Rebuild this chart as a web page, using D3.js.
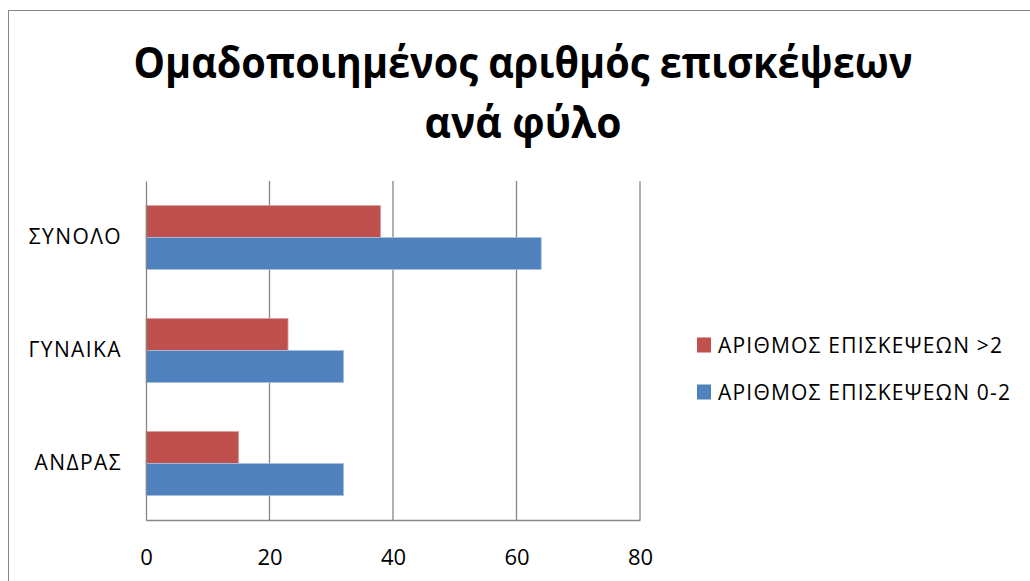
<!DOCTYPE html>
<html><head><meta charset="utf-8">
<script src="https://cdn.jsdelivr.net/npm/d3@7"></script>
<style>body{margin:0;background:#fff}svg{display:block}text{font-family:"Open Sans","Noto Sans",sans-serif}</style>
</head><body><svg id="c" width="1030" height="581"></svg>
<script>
const titleLines = ["Ομαδοποιημένος αριθμός επισκέψεων", "ανά φύλο"];
const titleWidths = [779, 197];
const categories = ["ΣΥΝΟΛΟ", "ΓΥΝΑΙΚΑ", "ΑΝΔΡΑΣ"];
const seriesNames = ["ΑΡΙΘΜΟΣ ΕΠΙΣΚΕΨΕΩΝ >2", "ΑΡΙΘΜΟΣ ΕΠΙΣΚΕΨΕΩΝ 0-2"];
const seriesColors = ["#C0504D", "#4F81BD"];
const valuesOver2 = [38, 23, 15];
const values0to2 = [64, 32, 32];
const xTicks = [0, 20, 40, 60, 80];

const svg = d3.select("#c");
// outer frame
svg.append("rect").attr("x", 8.5).attr("y", 10.5).attr("width", 1040).attr("height", 600)
  .attr("fill", "none").attr("stroke", "#868686").attr("stroke-width", 1);

// title
svg.append("g").selectAll("text").data(titleLines).join("text")
  .attr("x", 523).attr("y", (d, i) => 78 + i * 60)
  .attr("text-anchor", "middle").attr("font-size", 43).attr("font-weight", "bold")
  .attr("textLength", (d, i) => titleWidths[i]).attr("lengthAdjust", "spacingAndGlyphs")
  .attr("fill", "#000").text(d => d);

const m = {left: 146, right: 640, top: 181, bottom: 520};
const x = d3.scaleLinear().domain([0, 80]).range([m.left, m.right]);
const y = d3.scaleBand().domain(categories).range([m.top, m.bottom]).paddingInner(0).paddingOuter(0);
const inner = d3.scaleBand().domain([0, 1]).range([0, y.bandwidth()]).paddingInner(0).paddingOuter(0.765);

// gridlines
svg.append("g").selectAll("line").data(xTicks.slice(1)).join("line")
  .attr("x1", d => x(d)).attr("x2", d => x(d)).attr("y1", m.top).attr("y2", m.bottom)
  .attr("stroke", "#868686").attr("stroke-width", 1.3);

// bars
const data = [valuesOver2, values0to2];
data.forEach((vals, s) => {
  svg.append("g").selectAll("rect").data(vals).join("rect")
    .attr("x", x(0)).attr("y", (d, i) => y(categories[i]) + inner(s))
    .attr("width", d => x(d) - x(0)).attr("height", inner.bandwidth())
    .attr("fill", seriesColors[s]).attr("stroke", s === 0 ? "#d9a3a1" : "#a8c0de").attr("stroke-width", 0.8);
});

// axes
const xAxis = d3.axisBottom(x).tickValues(xTicks).tickSize(0).tickPadding(29);
const gx = svg.append("g").attr("transform", `translate(0,${m.bottom})`).call(xAxis);
gx.select(".domain").attr("stroke", "#868686").attr("stroke-width", 1.3);
gx.selectAll("text").attr("font-size", 22).attr("fill", "#000").style("font-family", '"Open Sans",sans-serif');

const yAxis = d3.axisLeft(y).tickSize(0).tickPadding(24);
const gy = svg.append("g").attr("transform", `translate(${m.left},0)`).call(yAxis);
gy.select(".domain").attr("stroke", "#868686").attr("stroke-width", 1.3);
gy.selectAll("text").attr("font-size", 21).attr("letter-spacing", 1.4).attr("fill", "#000").style("font-family", '"Open Sans",sans-serif');

// legend
const lg = svg.append("g").selectAll("g").data(seriesNames).join("g")
  .attr("transform", (d, i) => `translate(697,${345 + i * 47})`);
lg.append("rect").attr("x", 0).attr("y", -7.5).attr("width", 14).attr("height", 15).attr("fill", (d, i) => seriesColors[i]);
lg.append("text").attr("x", 21).attr("y", 0).attr("dy", "0.36em").attr("font-size", 21).attr("letter-spacing", 1.2).attr("fill", "#000").text(d => d);
</script></body></html>
